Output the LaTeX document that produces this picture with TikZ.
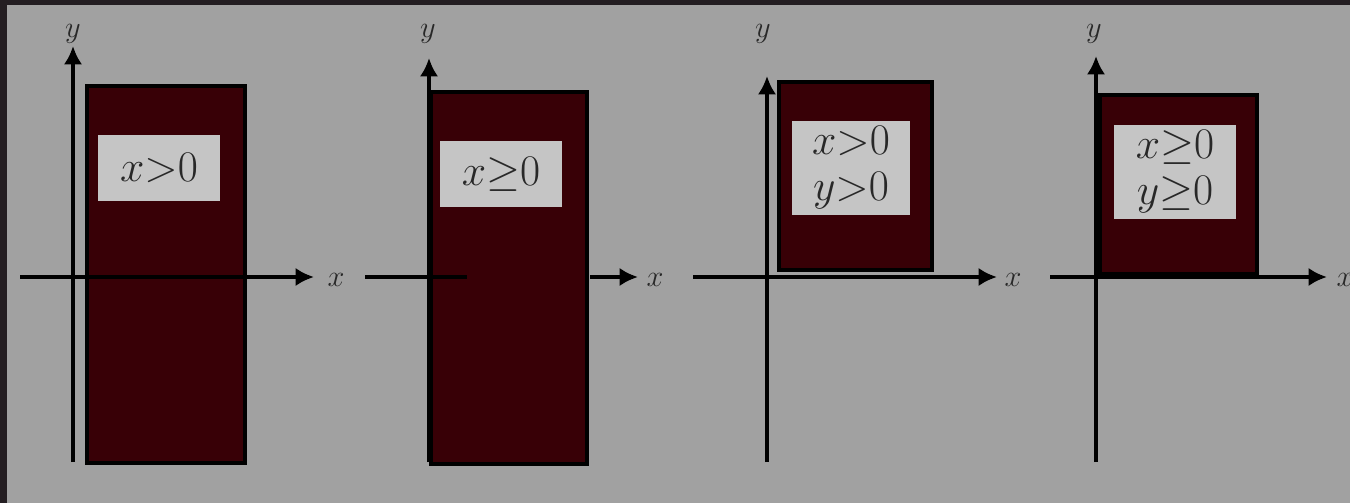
\documentclass[tikz,border=0pt]{standalone}
\usepackage{amsmath,amssymb}
\usepackage{tikz}
\usetikzlibrary{arrows.meta,positioning}

\definecolor{bggray}{RGB}{161,161,161}
\definecolor{framedark}{RGB}{36,30,34}
\definecolor{regionred}{RGB}{56,0,6}
\definecolor{boxgray}{RGB}{197,197,197}
\definecolor{inkgray}{RGB}{40,40,40}

\begin{document}
\begin{tikzpicture}[>={Latex[length=10.5pt,width=10.5pt]},x=0.02cm,y=-0.02cm,
  region/.style={draw=black,line width=2.5pt,fill=regionred,inner sep=0pt,anchor=north west},
  condbox/.style={fill=boxgray,inner sep=0pt,align=center,text=inkgray,font=\fontsize{23}{26}\selectfont},
  axis/.style={line width=2.5pt,black},
  axlabel/.style={text=inkgray,font=\fontsize{17}{20}\selectfont,inner sep=0pt}]
% background and frame
\fill[bggray] (0,0) rectangle (1350,503);
\fill[framedark] (0,0) rectangle (1350,5);
\fill[framedark] (0,0) rectangle (7,503);
\useasboundingbox (0,0) rectangle (1350,503);

% regions
\node[region,minimum width=3.16cm,minimum height=7.54cm] (reg1) at (85,84) {};
\node[region,minimum width=3.12cm,minimum height=7.44cm] (reg2) at (429,90) {};
\node[region,minimum width=3.06cm,minimum height=3.76cm] (reg3) at (777,80) {};
\node[region,minimum width=3.14cm,minimum height=3.58cm] (reg4) at (1098,93) {};

% axis labels
\node[axlabel] (ylab1) at (73,34) {$y$};
\node[axlabel] (xlab1) at (336,280) {$x$};
\node[axlabel] (ylab2) at (428,34) {$y$};
\node[axlabel] (xlab2) at (655,280) {$x$};
\node[axlabel] (ylab3) at (763,34) {$y$};
\node[axlabel] (xlab3) at (1013,280) {$x$};
\node[axlabel] (ylab4) at (1094,34) {$y$};
\node[axlabel] (xlab4) at (1345,280) {$x$};

% axes
\coordinate (ybot1) at (73,462);  \coordinate (ytop1) at (73,46);
\coordinate (xlft1) at (20,277);  \coordinate (xrgt1) at (314,277);
\coordinate (ybot2) at (429,462); \coordinate (ytop2) at (429,58);
\coordinate (xlft2) at (365,277); \coordinate (xmid2) at (467,277);
\coordinate (xgap2) at (590,277); \coordinate (xrgt2) at (638,277);
\coordinate (ybot3) at (767,462); \coordinate (ytop3) at (767,76);
\coordinate (xlft3) at (693,277); \coordinate (xrgt3) at (997,277);
\coordinate (ybot4) at (1096,462); \coordinate (ytop4) at (1096,56);
\coordinate (xlft4) at (1050,277); \coordinate (xrgt4) at (1327,277);
\draw[axis,->] (ybot1) -- (ytop1);
\draw[axis,->] (xlft1) -- (xrgt1);
\draw[axis,->] (ybot2) -- (ytop2);
\draw[axis] (xlft2) -- (xmid2);
\draw[axis,->] (xgap2) -- (xrgt2);
\draw[axis,->] (ybot3) -- (ytop3);
\draw[axis,->] (xlft3) -- (xrgt3);
\draw[axis,->] (ybot4) -- (ytop4);
\draw[axis,->] (xlft4) -- (xrgt4);

% conditions
\node[condbox,minimum width=2.44cm,minimum height=1.32cm] (cond1) at (159,168) {$x{>}0$};
\node[condbox,minimum width=2.46cm,minimum height=1.32cm] (cond2) at (501,174) {$x{\geq}0$};
\node[condbox,minimum width=2.36cm,minimum height=1.9cm] (cond3) at (851,168) {$x{>}0$\\$y{>}0$};
\node[condbox,minimum width=2.46cm,minimum height=1.9cm] (cond4) at (1175,172) {$x{\geq}0$\\$y{\geq}0$};
\end{tikzpicture}
\end{document}
